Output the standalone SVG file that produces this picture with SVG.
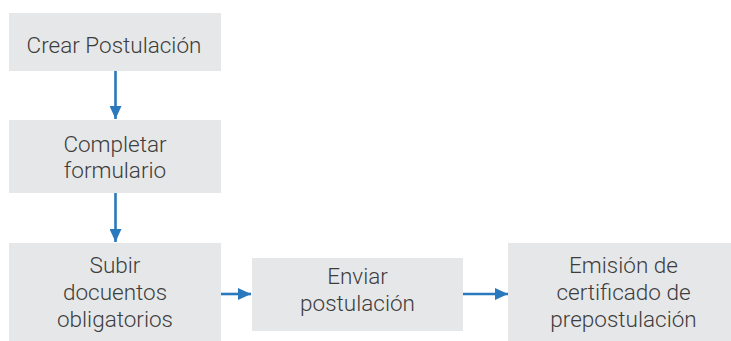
<svg xmlns="http://www.w3.org/2000/svg" width="731" height="341" viewBox="0 0 731 341">
<style>
.box{fill:#e6e7e8;}
.t{font-family:Roboto,"Liberation Sans",sans-serif;font-weight:300;font-size:22.5px;fill:#3d3d3d;text-anchor:middle;}
.c{stroke:#2a78bd;stroke-width:2.6;fill:none;}
</style>
<defs>
<marker id="ah" markerUnits="userSpaceOnUse" markerWidth="14" markerHeight="12" refX="13" refY="6" orient="auto">
<path d="M0,0 L13,6 L0,12 Z" fill="#2a78bd"/>
</marker>
</defs>
<rect width="731" height="341" fill="#ffffff"/>
<g id="n1"><rect class="box" x="9" y="13" width="212" height="58"/><text class="t" x="114" y="52.5">Crear Postulación</text></g>
<g id="n2"><rect class="box" x="9" y="120" width="212" height="73"/><text class="t" x="115" y="151.5">Completar</text><text class="t" x="115" y="178">formulario</text></g>
<g id="n3"><rect class="box" x="9" y="243" width="212" height="98"/><text class="t" x="115" y="273">Subir</text><text class="t" x="115" y="300">docuentos</text><text class="t" x="115" y="326.5">obligatorios</text></g>
<g id="n4"><rect class="box" x="252" y="258" width="211" height="73"/><text class="t" x="357.5" y="284">Enviar</text><text class="t" x="357.5" y="311">postulación</text></g>
<g id="n5"><rect class="box" x="508" y="243" width="223" height="98"/><text class="t" x="623.5" y="273">Emisión de</text><text class="t" x="623.5" y="300">certificado de</text><text class="t" x="623.5" y="326.5">prepostulación</text></g>
<g id="connectors">
<path class="c" d="M115.5,71 V119" marker-end="url(#ah)"/>
<path class="c" d="M115.5,193 V242" marker-end="url(#ah)"/>
<path class="c" d="M221,294 H251" marker-end="url(#ah)"/>
<path class="c" d="M463,294 H508" marker-end="url(#ah)"/>
</g>
</svg>
